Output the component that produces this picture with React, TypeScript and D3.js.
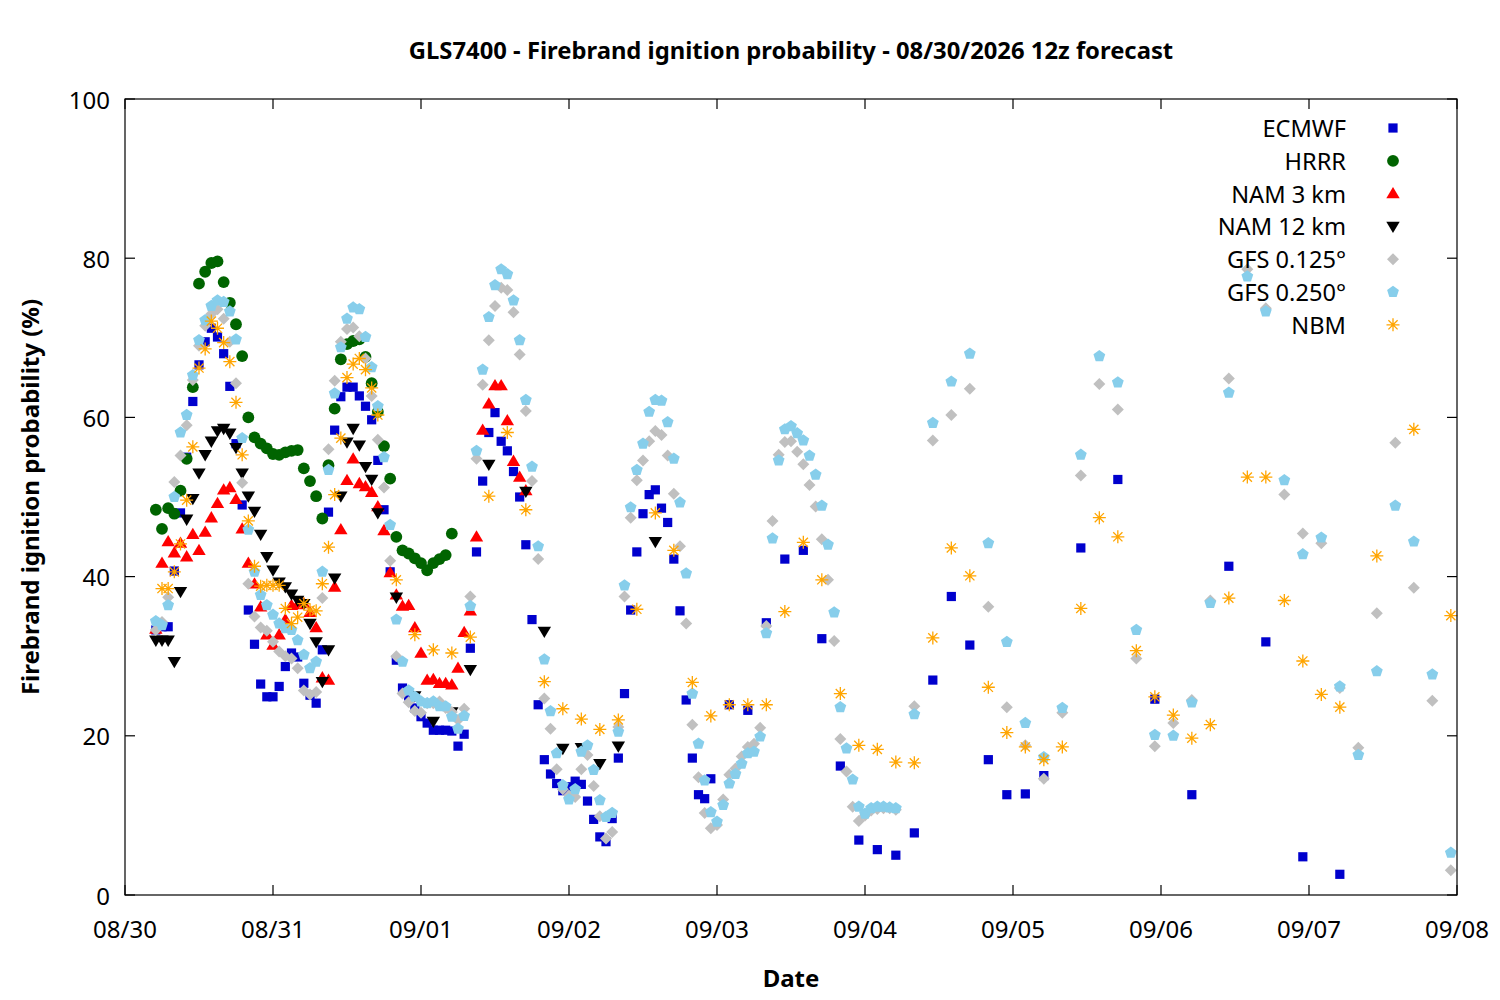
import React from "react";
import * as d3 from "d3";

const T0 = Date.UTC(2026, 7, 30);
const dayTicks = d3.range(0, 10).map((d) => new Date(T0 + d * 86400000));
const yTicks = [0, 20, 40, 60, 80, 100];

// hours after 08/30 00:00 and values (%)
const ecmwfHours = [...d3.range(5, 96), ...d3.range(98, 150, 3), ...d3.range(155, 198, 6)];
const ecmwfValues = [
  33.3, 33.7, 33.7, 40.7, 48, 55, 62, 66.6, 69.5, 71.2, 70.1, 68, 63.9, 56.7, 49, 35.8, 31.5, 26.5, 24.9, 24.9,
  26.2, 28.7, 30.4, 29.9, 26.6, 25.1, 24.1, 30.8, 48.1, 58.4, 62.6, 63.8, 63.8, 62.7, 61.4, 59.7, 54.6, 48.4, 40.6, 29.5,
  26, 25, 23.5, 22.4, 21.6, 20.7, 20.7, 20.7, 20.6, 18.7, 20.2, 31, 43.1, 52, 58.1, 60.6, 57, 55.8, 53.2, 50,
  44, 34.6, 23.9, 17, 15.2, 14, 13.1, 13.6, 14.3, 13.9, 11.8, 9.5, 7.3, 6.7, 9.6, 17.2, 25.3, 35.8, 43.1, 47.9,
  50.3, 50.9, 48.6, 46.8, 42.2, 35.7, 24.5, 17.2, 12.6, 12.1, 14.6,
  23.9, 23.2, 34.2, 42.2, 43.3, 32.2, 16.2, 6.9, 5.7, 5, 7.8, 27, 37.5, 31.4, 17, 12.6, 12.7, 15,
  43.6, 52.2, 24.6, 12.6, 41.3, 31.8, 4.8, 2.6,
];

const hrrrHours = d3.range(5, 54);
const hrrrValues = [
  48.4, 46, 48.6, 47.9, 50.8, 54.8, 63.8, 76.8, 78.3, 79.4,
  79.6, 77, 74.4, 71.7, 67.7, 60, 57.5, 56.7, 56.1, 55.4,
  55.3, 55.6, 55.8, 55.9, 53.6, 52, 50.1, 47.3, 54, 61.1,
  67.3, 69.2, 69.6, 69.8, 67.6, 64.3, 60.7, 56.4, 52.3, 45,
  43.3, 42.9, 42.3, 41.7, 40.8, 41.7, 42.2, 42.7, 45.4,
];

const nam3Hours = d3.range(5, 66);
const nam3Values = [
  33.4, 41.7, 44.4, 43, 44.2, 42.5, 45.3, 43.3, 45.6, 47.4,
  49.2, 50.9, 51.2, 49.7, 46, 41.7, 39.1, 36.2, 32.7, 31.4,
  32.7, 34.6, 36.4, 36.5, 36.6, 35.5, 33.6, 27.3, 27, 38.7,
  45.9, 52.1, 54.8, 51.7, 51.3, 50.6, 48.8, 45.8, 40.5, 37.7,
  36.3, 36.4, 33.6, 30.4, 27, 27.1, 26.6, 26.6, 26.4, 28.5,
  33, 35.7, 45, 58.4, 61.7, 64, 64, 59.6, 54.5, 52.5,
  50.8,
];

const nam12Hours = [...d3.range(5, 42), 44, 47, 50, 53, 56, 59, 65, 68, 71, 74, 77, 80, 86];
const nam12Values = [
  32, 32, 32, 29.3, 38.1, 47.2, 49.8, 53, 55.3, 57,
  58.3, 58.6, 58, 56.2, 53, 50.1, 48.2, 45.3, 42.5, 40.8,
  39.3, 38.7, 37.8, 37, 36.6, 34.1, 31.8, 26.8, 30.8, 39.8,
  50.1, 56.9, 58.6, 56.5, 53.8, 52.2, 48,
  37.4, 25, 21.8, 23, 28.3, 54.1, 50.7, 33.1, 18.4, 18.5, 16.5, 18.7, 44.4,
];

const gfs125Hours = [...d3.range(5, 126), ...d3.range(128, 216, 3)];
const gfs125Values = [
  33.3, 34.3, 37.4, 51.9, 55.2, 59, 64.7, 69, 71.5, 73,
  73.6, 72.4, 69.5, 64.3, 51.8, 39.1, 35, 33.6, 33.2, 31.8,
  30.6, 30, 29.7, 28.5, 25.7, 25.2, 25.5, 37.3, 56, 64.6,
  69.5, 71.1, 71.3, 70.2, 67.4, 62.7, 57.2, 51.2, 42, 30,
  25.3, 24.2, 23.1, 22.9, 24.1, 24.1, 24.3, 23.5, 23, 22,
  23.4, 37.5, 54.8, 64.1, 69.7, 74, 76.3, 76, 73.2, 67.9,
  60.8, 52, 42.2, 24.7, 20.9, 15.8, 13.3, 12.5, 12.3, 15.8,
  17.6, 13.7, 9.9, 7.1, 7.9, 21.1, 37.5, 47.4, 52.1, 54.6,
  57, 58.3, 57.8, 55.2, 50.4, 43.8, 34.1, 21.4, 14.8, 10.3,
  8.4, 8.8, 12, 15.1, 15.9, 17.4, 18.6, 19, 21, 33.8,
  47, 55.3, 56.9, 57, 55.7, 54.1, 51.5, 48.8, 44.7, 39.6,
  31.9, 19.6, 15.5, 11.1, 9.3, 10, 10.6, 10.8, 10.9, 10.9,
  10.7,
  23.7, 57.1, 60.3, 63.6, 36.2, 23.6, 18.8, 14.6, 22.9, 52.7,
  64.2, 61, 29.7, 18.7, 21.6, 24.5, 37, 64.9, 78.6, 73.7,
  50.3, 45.4, 44.2, 26, 18.5, 35.4, 56.8, 38.6, 24.4, 3.1,
];

const gfs250Hours = [...d3.range(5, 126), ...d3.range(128, 216, 3)];
const gfs250Values = [
  34.4, 33.9, 36.4, 50, 58.1, 60.3, 65.3, 69.7, 72.2, 74,
  74.7, 74.5, 73.3, 69.8, 57.4, 45.9, 40.6, 37.7, 36.4, 35.2,
  34.1, 33.5, 33.3, 32, 30.2, 28.5, 29.3, 40.6, 53.4, 63,
  68.8, 72.4, 73.8, 73.6, 70.1, 66.3, 61.4, 55, 46.5, 34.6,
  29.3, 25.7, 24.9, 24.3, 24.1, 24.3, 23.7, 23.7, 22.4, 20.9,
  22.5, 36.3, 55.8, 66, 72.6, 76.6, 78.6, 78, 74.7, 69.7,
  62.2, 53.8, 43.8, 29.6, 23.1, 17.8, 13.8, 12, 13.3, 18,
  18.8, 15.7, 11.9, 9.8, 10.3, 20.5, 38.9, 48.7, 53.4, 56.7,
  60.7, 62.2, 62.1, 59.4, 54.8, 49.3, 40.4, 25.3, 19, 14.4,
  10.4, 9.2, 11.3, 14, 15.2, 16.5, 17.8, 18, 19.9, 32.9,
  44.8, 54.6, 58.5, 58.9, 58, 57.1, 55.2, 52.8, 48.9, 44,
  35.5, 23.6, 18.4, 14.5, 11.1, 10.2, 10.9, 11.1, 11.1, 11,
  10.9,
  22.7, 59.3, 64.5, 68, 44.2, 31.8, 21.6, 17.3, 23.5, 55.3,
  67.7, 64.4, 33.3, 20.1, 20, 24.2, 36.7, 63.1, 77.7, 73.3,
  52.1, 42.8, 44.9, 26.2, 17.6, 28.1, 48.9, 44.4, 27.7, 5.3,
];

const nbmHours = [...d3.range(6, 42), ...d3.range(44, 198, 3), 203, 209, 215];
const nbmValues = [
  38.5, 38.5, 40.6, 44.1, 49.6, 56.3, 66.2, 68.6, 72.1, 71.2,
  69.4, 67, 61.9, 55.3, 47, 41.3, 38.8, 38.9, 38.9, 38.9,
  36, 34.1, 34.9, 36.6, 35.8, 35.7, 39.1, 43.7, 50.3, 57.4,
  65, 66.7, 67.4, 66, 63.7, 60.3,
  39.6, 32.7, 30.8, 30.4, 32.4, 50.1, 58.1, 48.4, 26.8, 23.4,
  22.1, 20.8, 22, 35.9, 48, 43.3, 26.7, 22.5, 23.9, 23.9,
  23.9, 35.6, 44.3, 39.6, 25.3, 18.8, 18.3, 16.7, 16.6, 32.3,
  43.6, 40.1, 26.1, 20.4, 18.6, 17, 18.6, 36, 47.4, 45,
  30.7, 24.9, 22.6, 19.7, 21.4, 37.3, 52.5, 52.5, 37, 29.4,
  25.2, 23.6,
  42.6, 58.5, 35.1,
];

type Shape = "square" | "circle" | "triUp" | "triDown" | "diamond" | "pentagon" | "star";

const seriesList: { name: string; hours: number[]; values: number[]; color: string; shape: Shape }[] = [
  { name: "ECMWF", hours: ecmwfHours, values: ecmwfValues, color: "#0000cd", shape: "square" },
  { name: "HRRR", hours: hrrrHours, values: hrrrValues, color: "#006400", shape: "circle" },
  { name: "NAM 3 km", hours: nam3Hours, values: nam3Values, color: "#ff0000", shape: "triUp" },
  { name: "NAM 12 km", hours: nam12Hours, values: nam12Values, color: "#000000", shape: "triDown" },
  { name: "GFS 0.125°", hours: gfs125Hours, values: gfs125Values, color: "#c0c0c0", shape: "diamond" },
  { name: "GFS 0.250°", hours: gfs250Hours, values: gfs250Values, color: "#87ceeb", shape: "pentagon" },
  { name: "NBM", hours: nbmHours, values: nbmValues, color: "#ffa500", shape: "star" },
];

const pentagonPath = (() => {
  const r = 6.2;
  const pts = d3.range(5).map((k) => {
    const a = -Math.PI / 2 + (k * 2 * Math.PI) / 5;
    return [r * Math.cos(a), r * Math.sin(a)];
  });
  return "M" + pts.map((p) => p[0].toFixed(2) + "," + p[1].toFixed(2)).join("L") + "Z";
})();

function Marker({ shape, color, x, y }: { shape: Shape; color: string; x: number; y: number }) {
  const t = `translate(${x},${y})`;
  switch (shape) {
    case "square":
      return <rect x={x - 4.6} y={y - 4.6} width={9.2} height={9.2} fill={color} />;
    case "circle":
      return <circle cx={x} cy={y} r={5.9} fill={color} />;
    case "triUp":
      return <path transform={t} d="M0,-6.6L6.7,4.7L-6.7,4.7Z" fill={color} />;
    case "triDown":
      return <path transform={t} d="M0,6.6L6.7,-4.7L-6.7,-4.7Z" fill={color} />;
    case "diamond":
      return <path transform={t} d="M0,-6L6,0L0,6L-6,0Z" fill={color} />;
    case "pentagon":
      return <path transform={t} d={pentagonPath} fill={color} />;
    case "star":
      return (
        <path
          transform={t}
          d="M-6.5,0H6.5M0,-6.5V6.5M-4.6,-4.6L4.6,4.6M-4.6,4.6L4.6,-4.6"
          stroke={color}
          strokeWidth={1.3}
          fill="none"
        />
      );
  }
  return null;
}

export default function App() {
  const width = 1500;
  const height = 1000;
  const left = 125;
  const right = 1457;
  const top = 99;
  const bottom = 895;

  const x = d3
    .scaleUtc()
    .domain([new Date(T0), new Date(T0 + 9 * 86400000)])
    .range([left, right]);
  const y = d3.scaleLinear().domain([0, 100]).range([bottom, top]);
  const fmt = d3.utcFormat("%m/%d");
  const font = "'Noto Sans', 'Open Sans', sans-serif";
  const tickLen = 10;

  return (
    <svg
      width={width}
      height={height}
      style={{ position: "absolute", left: 0, top: 0, background: "#fff" }}
      fontFamily={font}
    >
      <rect x={0} y={0} width={width} height={height} fill="#fff" />
      <text x={791} y={50} textAnchor="middle" dominantBaseline="central" fontWeight="bold" fontSize={23.8}>
        GLS7400 - Firebrand ignition probability - 08/30/2026 12z forecast
      </text>

      {seriesList.map((s) => (
        <g key={s.name}>
          {s.values.map((v, i) => (
            <Marker
              key={i}
              shape={s.shape}
              color={s.color}
              x={x(new Date(T0 + s.hours[i] * 3600000))}
              y={y(v)}
            />
          ))}
        </g>
      ))}

      {/* frame */}
      <rect x={left} y={top} width={right - left} height={bottom - top} fill="none" stroke="#000" strokeWidth={1.2} />

      {yTicks.map((t) => (
        <g key={"y" + t}>
          <line x1={left} x2={left + tickLen} y1={y(t)} y2={y(t)} stroke="#000" strokeWidth={1.2} />
          <line x1={right} x2={right - tickLen} y1={y(t)} y2={y(t)} stroke="#000" strokeWidth={1.2} />
          <text x={110} y={y(t)} textAnchor="end" dominantBaseline="central" fontSize={24}>
            {t}
          </text>
        </g>
      ))}

      {dayTicks.map((d, i) => (
        <g key={"x" + i}>
          <line x1={x(d)} x2={x(d)} y1={bottom} y2={bottom - tickLen} stroke="#000" strokeWidth={1.2} />
          <line x1={x(d)} x2={x(d)} y1={top} y2={top + tickLen} stroke="#000" strokeWidth={1.2} />
          <text x={x(d)} y={928} textAnchor="middle" dominantBaseline="central" fontSize={24}>
            {fmt(d)}
          </text>
        </g>
      ))}

      <text x={791} y={977} textAnchor="middle" dominantBaseline="central" fontWeight="bold" fontSize={24}>
        Date
      </text>
      <text
        transform={`translate(29,497) rotate(-90)`}
        textAnchor="middle"
        dominantBaseline="central"
        fontWeight="bold"
        fontSize={24}
      >
        Firebrand ignition probability (%)
      </text>

      {seriesList.map((s, i) => {
        const ly = 128 + i * 32.8;
        return (
          <g key={"leg" + s.name}>
            <text x={1346} y={ly} textAnchor="end" dominantBaseline="central" fontSize={23.6}>
              {s.name}
            </text>
            <Marker shape={s.shape} color={s.color} x={1393} y={ly} />
          </g>
        );
      })}
    </svg>
  );
}
